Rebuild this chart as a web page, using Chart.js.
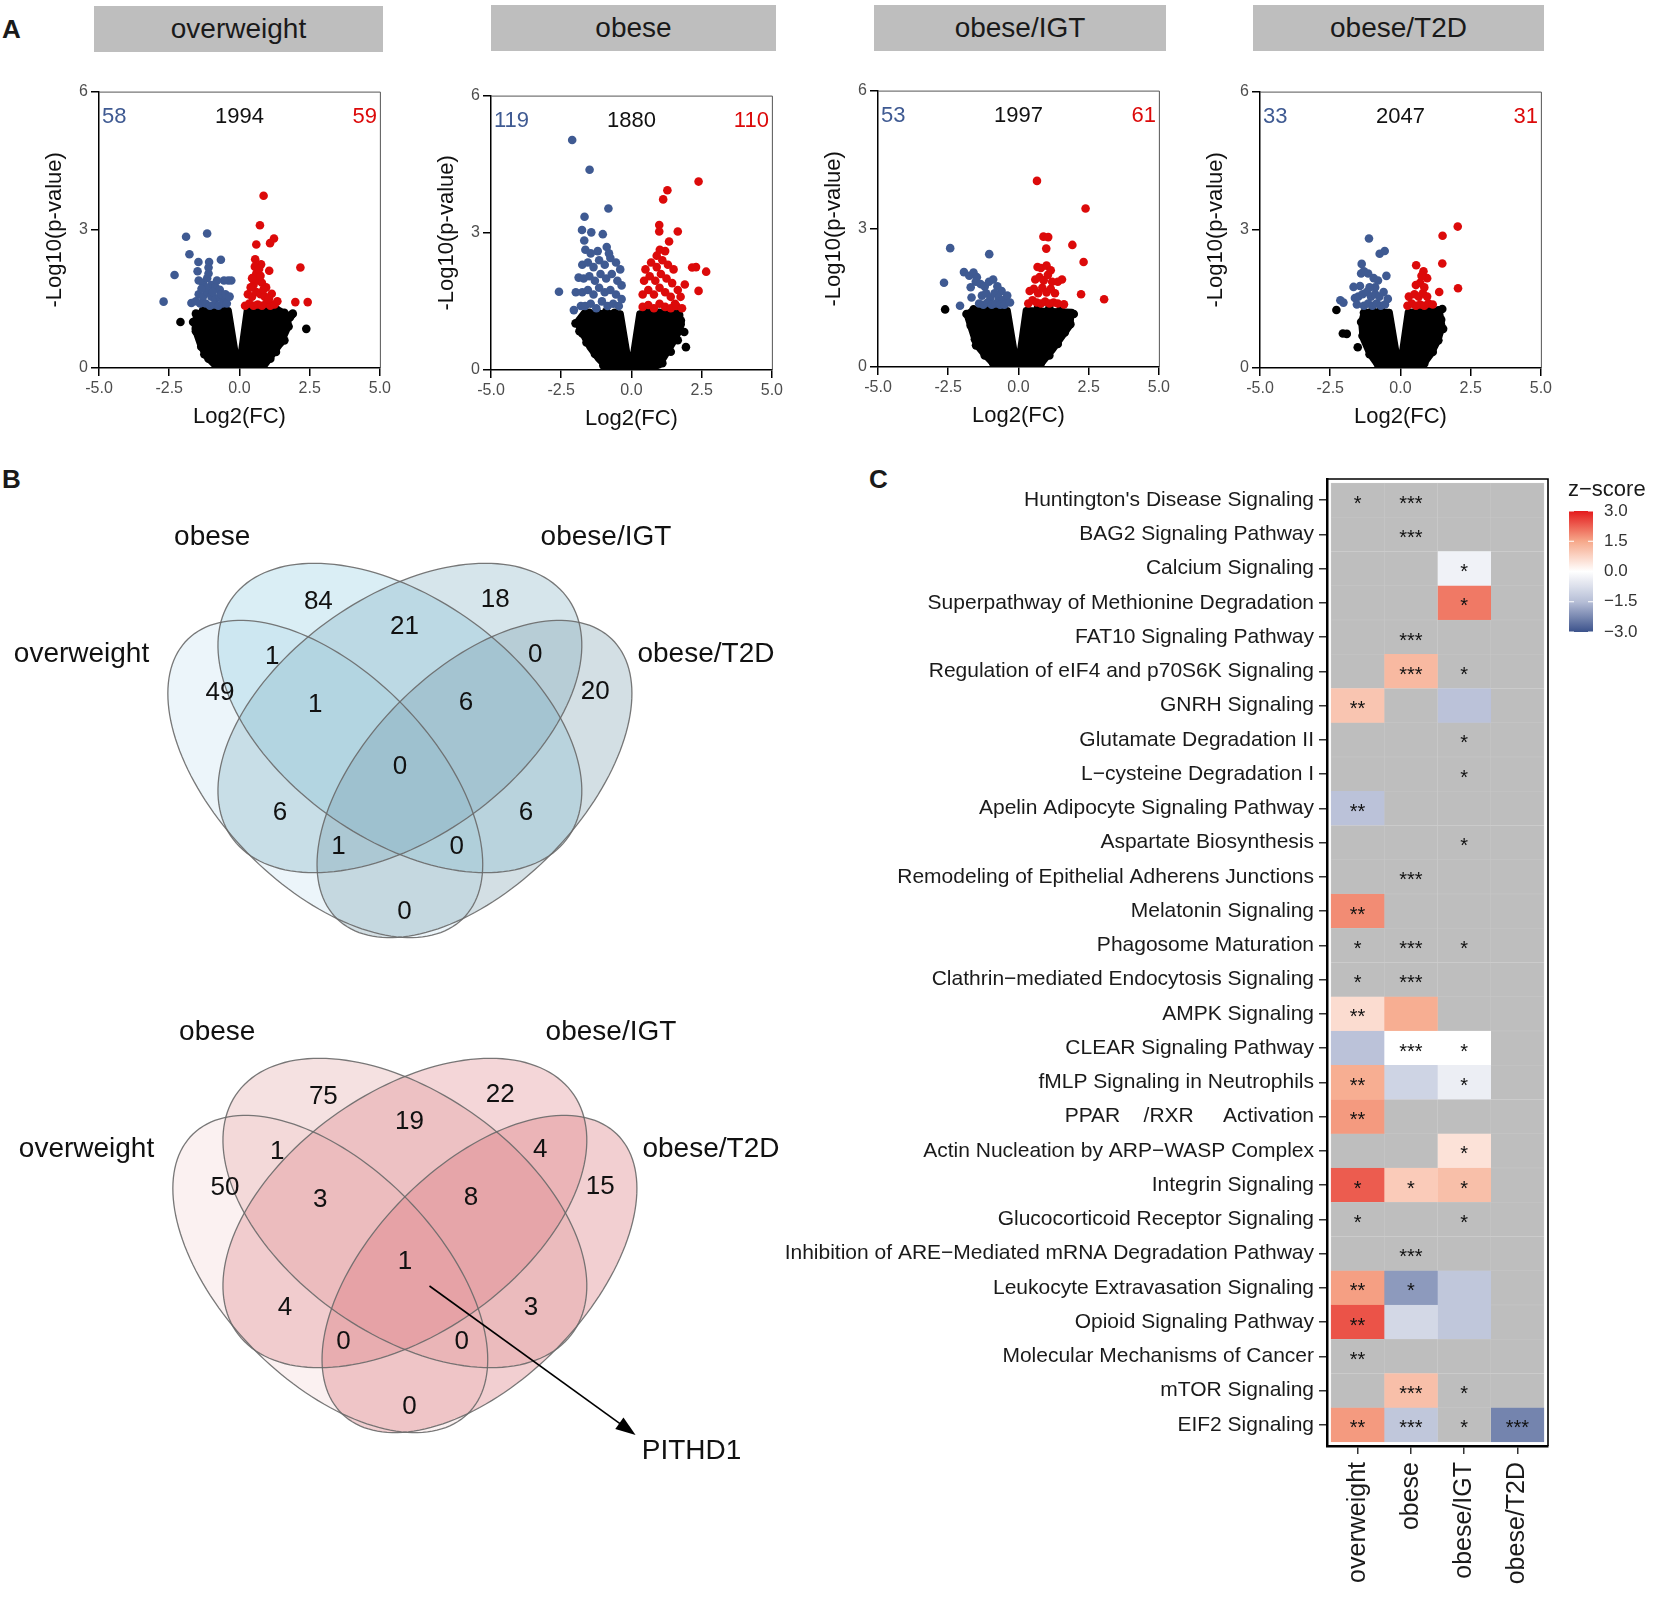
<!DOCTYPE html>
<html>
<head>
<meta charset="utf-8">
<script src="https://cdn.jsdelivr.net/npm/chart.js@4.4.1/dist/chart.umd.min.js"></script>
<style>
  body { margin: 0; background: #fff; width: 1654px; height: 1598px; position: relative; overflow: hidden;
         font-family: "Liberation Sans", Arial, Helvetica, sans-serif; color: #1a1a1a; }
  canvas { position: absolute; }
  .strip { position: absolute; background: #bebebe; font-size: 28px; text-align: center; height: 46px; line-height: 46px; }
  .tag { position: absolute; font-weight: bold; font-size: 26px; line-height: 30px; }
</style>
</head>
<body>
<div class="tag" style="left:2px;top:14px">A</div>
<div class="tag" style="left:2px;top:464px">B</div>
<div class="tag" style="left:869px;top:464px">C</div>

<div class="strip" style="left:94px;top:6px;width:289px">overweight</div>
<div class="strip" style="left:491px;top:5px;width:285px">obese</div>
<div class="strip" style="left:874px;top:5px;width:292px">obese/IGT</div>
<div class="strip" style="left:1253px;top:5px;width:291px">obese/T2D</div>

<canvas id="vol0" width="355" height="353" style="left:39px;top:79px"></canvas>
<canvas id="vol1" width="355" height="351" style="left:431px;top:83px"></canvas>
<canvas id="vol2" width="355" height="353" style="left:818px;top:78px"></canvas>
<canvas id="vol3" width="355" height="353" style="left:1200px;top:79px"></canvas>
<canvas id="venn0" width="800" height="490" style="left:0px;top:500px"></canvas>
<canvas id="venn1" width="800" height="490" style="left:5px;top:995px"></canvas>
<canvas id="heat" width="894" height="1158" style="left:760px;top:440px"></canvas>

<script>
// ---- A: volcano plots ----
const groups = ["overweight", "obese", "obese/IGT", "obese/T2D"];
const downCounts = [58, 119, 53, 33];
const restCounts = [1994, 1880, 1997, 2047];
const upCounts = [59, 110, 61, 31];

const owDown = [[-1.90,2.85],[-1.15,2.92],[-1.78,2.47],[-1.46,2.30],[-1.08,2.30],[-0.66,2.35],[-2.31,2.02],[-1.49,2.10],[-2.70,1.44],[-1.71,1.41],[-1.10,2.18],[-0.40,1.90],[-0.29,1.90],
  [-1.45,1.90],[-1.30,1.85],[-1.15,1.95],[-1.00,1.80],[-0.85,1.75],[-0.70,1.70],[-0.55,1.90],[-1.45,1.60],[-1.30,1.55],[-1.15,1.65],[-1.00,1.55],[-0.85,1.50],[-0.70,1.55],[-0.55,1.45],
  [-1.40,1.40],[-1.20,1.40],[-1.05,1.35],[-0.90,1.38],[-0.75,1.35],[-0.60,1.40],[-0.45,1.40],[-1.10,2.05],[-1.20,1.75],[-0.95,1.65],[-0.80,1.90],[-0.65,1.60],[-1.35,1.72],[-0.50,1.60],[-1.55,1.45],[-0.35,1.55]];
const owUp = [[0.86,3.74],[0.73,3.10],[1.23,2.81],[1.09,2.71],[0.60,2.68],[2.17,2.18],[1.99,1.43],[2.43,1.43],[0.56,2.36],[0.77,2.25],[1.06,2.11],[1.15,1.61],
  [0.20,1.35],[0.35,1.40],[0.50,1.35],[0.65,1.38],[0.80,1.35],[0.95,1.40],[1.10,1.35],[1.25,1.38],[0.30,1.60],[0.45,1.55],[0.60,1.65],[0.75,1.60],[0.90,1.55],[1.05,1.50],
  [0.50,1.80],[0.65,1.90],[0.80,1.85],[0.95,1.75],[0.60,2.05],[0.75,2.00],[0.55,2.20],[0.70,2.15],[0.85,1.70],[0.40,1.75],[0.45,1.95],[1.35,1.45]];
const owRest = [[-2.10,1.00],[2.38,0.85],[-1.36,0.46],[-1.55,0.80],[-1.65,1.00],[-1.55,1.18],[-1.30,1.25],[-1.00,1.25],[-0.70,1.28],
  [0.50,1.25],[0.90,1.25],[1.30,1.28],[1.60,1.20],[1.80,1.10],[1.85,1.15],[1.75,0.90],[1.60,0.60],[1.45,0.55],[1.30,0.35],[1.10,0.20],[0.80,0.08],
  [-1.10,0.20],[-0.80,0.05],[-1.25,0.30],[1.90,1.18]];
const owCore = [[-0.8,0],[-1.2,0.25],[-1.4,0.5],[-1.6,0.85],[-1.55,1.15],[-1.2,1.28],[-0.38,1.26],[-0.1,0.2],[0.02,0.2],[0.26,1.26],[1.3,1.3],[1.75,1.15],[1.75,0.9],[1.5,0.55],[1.2,0.3],[0.9,0.05],[0.5,0]];

const obDown = [[-2.11,5.03],[-1.49,4.38],[-0.82,3.53],[-1.67,3.35],[-1.76,3.06],[-1.43,3.01],[-1.02,2.97],[-1.68,2.83],[-1.64,2.63],[-0.88,2.69],[-2.58,1.71],[-2.05,1.31],[-1.88,2.02],[-1.98,1.70],[-1.80,1.40],
  [-1.75,2.30],[-1.55,2.35],[-1.35,2.25],[-1.15,2.40],[-0.95,2.30],[-0.75,2.45],[-0.55,2.35],[-0.40,2.20],[-1.70,2.00],[-1.50,2.05],[-1.30,1.95],[-1.10,2.10],[-0.90,2.00],[-0.70,2.10],
  [-0.50,1.95],[-0.35,1.85],[-1.75,1.70],[-1.55,1.75],[-1.35,1.65],[-1.15,1.80],[-0.95,1.70],[-0.75,1.75],[-0.55,1.65],[-1.65,1.40],[-1.45,1.45],[-1.25,1.35],[-1.05,1.50],[-0.85,1.40],
  [-0.65,1.45],[-0.45,1.40],[-0.35,1.55],[-1.20,2.60],[-0.80,2.55],[-1.45,2.55]];
const obUp = [[2.39,4.12],[1.28,3.93],[1.13,3.73],[1.65,3.03],[0.99,3.17],[0.99,3.03],[1.34,2.81],[1.01,2.63],[2.16,2.24],[2.66,2.15],[2.39,1.73],[1.90,1.87],[2.30,2.25],[1.75,1.60],[1.55,1.45],
  [0.50,2.20],[0.70,2.35],[0.90,2.25],[1.10,2.40],[1.30,2.30],[1.50,2.20],[0.45,1.95],[0.65,2.05],[0.85,1.95],[1.05,2.10],[1.25,2.00],[1.45,1.90],[1.65,1.75],[0.40,1.65],[0.60,1.75],
  [0.80,1.65],[1.00,1.80],[1.20,1.70],[1.40,1.60],[0.40,1.38],[0.60,1.42],[0.80,1.35],[1.00,1.45],[1.20,1.38],[1.40,1.35],[1.60,1.40],[1.80,1.35],[0.90,2.50],[1.20,2.60]];
const obRest = [[-1.99,1.02],[-1.85,0.85],[-1.70,1.15],[-1.50,1.25],[-1.20,1.25],[-0.90,1.28],[-0.60,1.25],
  [0.60,1.28],[1.00,1.25],[1.40,1.28],[1.70,1.20],[1.76,1.08],[1.88,0.83],[1.94,0.50],[1.65,0.65],[1.40,0.40],[1.10,0.15],[-1.00,0.10],[-1.30,0.35],[-1.60,0.60],[-1.75,0.80]];
const obCore = [[-0.8,0],[-1.2,0.25],[-1.5,0.5],[-1.8,0.85],[-1.95,1.05],[-1.7,1.25],[-0.38,1.24],[-0.1,0.2],[0.02,0.2],[0.28,1.24],[1.7,1.25],[1.8,1.0],[1.6,0.7],[1.3,0.4],[1.0,0.1],[0.5,0]];

const igtDown = [[-2.43,2.58],[-1.04,2.45],[-2.65,1.83],[-2.08,1.33],[-1.94,2.06],[-1.75,1.98],[-1.60,2.05],[-1.48,1.95],[-1.52,1.85],[-1.70,1.73],[-1.67,1.51],
  [-1.35,1.80],[-1.20,1.75],[-1.05,1.85],[-0.90,1.90],[-0.75,1.75],[-0.60,1.65],[-1.30,1.55],[-1.15,1.60],[-1.00,1.50],[-0.85,1.60],[-0.70,1.50],[-0.55,1.45],[-0.40,1.55],
  [-1.40,1.38],[-1.25,1.35],[-1.10,1.40],[-0.95,1.35],[-0.80,1.38],[-0.65,1.35],[-0.50,1.35],[-0.30,1.40]];
const igtUp = [[0.66,4.04],[2.39,3.44],[0.89,2.83],[1.06,2.82],[1.92,2.65],[0.99,2.57],[2.32,2.28],[2.23,1.58],[3.05,1.47],[1.62,1.36],[0.68,2.17],[1.40,1.85],[1.55,1.90],
  [0.35,1.38],[0.50,1.45],[0.65,1.40],[0.80,1.38],[0.95,1.42],[1.10,1.38],[1.25,1.40],[1.40,1.38],[0.40,1.65],[0.55,1.70],[0.70,1.60],[0.85,1.72],[1.00,1.62],[1.15,1.70],
  [1.30,1.60],[0.60,1.90],[0.75,1.95],[0.90,1.88],[1.05,2.00],[1.20,1.85],[0.80,2.15],[1.00,2.20],[1.15,2.10]];
const igtRest = [[-2.61,1.25],[-1.85,1.15],[-1.70,0.90],[-1.55,0.60],[-1.51,0.47],[-1.20,0.25],[-0.90,0.08],[-1.60,1.25],[-1.20,1.28],[-0.80,1.25],
  [0.70,1.30],[1.10,1.28],[1.50,1.25],[1.97,1.15],[1.85,0.93],[1.65,0.75],[1.40,0.50],[1.10,0.25],[0.80,0.08]];
const igtCore = [[-0.8,0],[-1.2,0.25],[-1.5,0.47],[-1.7,0.85],[-1.85,1.15],[-1.6,1.25],[-0.38,1.24],[-0.1,0.2],[0.02,0.2],[0.26,1.24],[1.9,1.2],[1.85,0.9],[1.5,0.6],[1.2,0.35],[0.8,0.05],[0.4,0]];

const t2dDown = [[-1.12,2.81],[-0.74,2.48],[-0.56,2.54],[-1.38,2.26],[-1.40,2.05],[-1.15,2.05],[-0.95,1.95],[-0.80,1.90],[-0.50,2.00],[-1.67,1.76],[-1.44,1.78],[-2.14,1.47],[-2.03,1.42],
  [-1.62,1.52],[-1.30,2.10],[-1.50,1.55],[-1.35,1.60],[-1.20,1.65],[-1.05,1.55],[-0.90,1.60],[-0.75,1.55],[-0.60,1.65],[-0.45,1.50],[-1.30,1.35],[-1.15,1.40],[-1.00,1.35],[-0.85,1.40],
  [-0.70,1.35],[-0.55,1.38],[-1.55,1.38],[-0.90,1.75],[-1.10,1.75]];
const t2dUp = [[2.04,3.07],[1.50,2.87],[1.49,2.27],[2.05,1.73],[1.38,1.65],[0.56,2.23],[0.82,2.10],
  [0.25,1.35],[0.40,1.40],[0.55,1.35],[0.70,1.38],[0.85,1.35],[1.00,1.40],[1.15,1.38],[0.30,1.55],[0.50,1.60],[0.65,1.55],[0.80,1.62],[0.95,1.55],[0.55,1.80],[0.70,1.85],
  [0.85,1.75],[0.95,1.95],[0.75,2.00]];
const t2dRest = [[-2.28,1.26],[-2.05,0.75],[-1.91,0.74],[-1.52,0.45],[-1.35,0.70],[-1.40,1.00],[-1.30,1.20],[-1.00,1.25],[-0.70,1.28],
  [0.60,1.25],[1.00,1.25],[1.35,1.25],[1.49,1.28],[1.52,0.85],[1.35,0.60],[1.15,0.35],[0.85,0.10],[-1.10,0.30],[-0.80,0.08],[1.45,1.05]];
const t2dCore = [[-0.75,0],[-1.1,0.3],[-1.35,0.65],[-1.4,1.0],[-1.3,1.22],[-0.38,1.22],[-0.1,0.2],[0.02,0.2],[0.26,1.22],[1.4,1.25],[1.5,0.9],[1.35,0.6],[1.1,0.3],[0.8,0.05],[0.4,0]];

// ---- B: Venn counts (region order: A, B, C, D, AB, BC, CD, ABC, BCD, ABCD, AC, BD, ACD, ABD, AD) ----
const vennSets = ["overweight", "obese", "obese/IGT", "obese/T2D"];
const vennDownCounts = [49, 84, 18, 20, 1, 21, 0, 1, 6, 0, 6, 6, 1, 0, 0];
const vennUpCounts = [50, 75, 22, 15, 1, 19, 4, 3, 8, 1, 4, 3, 0, 0, 0];

// ---- C: pathway heatmap ----
const pathways = [
  "Huntington's Disease Signaling", "BAG2 Signaling Pathway", "Calcium Signaling",
  "Superpathway of Methionine Degradation", "FAT10 Signaling Pathway",
  "Regulation of eIF4 and p70S6K Signaling", "GNRH Signaling", "Glutamate Degradation II",
  "L\u2212cysteine Degradation I", "Apelin Adipocyte Signaling Pathway", "Aspartate Biosynthesis",
  "Remodeling of Epithelial Adherens Junctions", "Melatonin Signaling", "Phagosome Maturation",
  "Clathrin\u2212mediated Endocytosis Signaling", "AMPK Signaling", "CLEAR Signaling Pathway",
  "fMLP Signaling in Neutrophils", "PPAR    /RXR     Activation", "Actin Nucleation by ARP\u2212WASP Complex",
  "Integrin Signaling", "Glucocorticoid Receptor Signaling",
  "Inhibition of ARE\u2212Mediated mRNA Degradation Pathway", "Leukocyte Extravasation Signaling",
  "Opioid Signaling Pathway", "Molecular Mechanisms of Cancer", "mTOR Signaling", "EIF2 Signaling"];
const _ = null;
const zOverweight = [_,_,_,_,_,_,1.0,_,_,-1.4,_,_,1.8,_,_,0.6,-1.4,1.4,1.65,_,2.3,_,_,1.6,2.4,_,_,1.65];
const zObese      = [_,_,_,_,_,1.2,_,_,_,_,_,_,_,_,_,1.4,0,-1.0,_,_,0.9,_,_,-2.0,-0.9,_,1.1,-1.3];
const zIGT        = [_,_,-0.3,2.0,_,_,-1.4,_,_,_,_,_,_,_,_,_,0,-0.4,_,0.5,1.1,_,_,-1.3,-1.3,_,_,_];
const zT2D        = [_,_,_,_,_,_,_,_,_,_,_,_,_,_,_,_,_,_,_,_,_,_,_,_,_,_,_,-2.3];
const starsOverweight = ["*","","","","","","**","","","**","","","**","*","*","**","","**","**","","*","*","","**","**","**","","**"];
const starsObese      = ["***","***","","","***","***","","","","","","***","","***","***","","***","","","","*","","***","*","","","***","***"];
const starsIGT        = ["","","*","*","","*","","*","*","","*","","","*","","","*","*","","*","*","*","","","","","*","*"];
const starsT2D        = ["","","","","","","","","","","","","","","","","","","","","","","","","","","","***"];
const legendTicks = [3, 1.5, 0, -1.5, -3];

// ---------------------------------------------------------------
const FONT = '"Liberation Sans", Arial, Helvetica, sans-serif';
const BLUE = "#3f5a92", RED = "#dc0a0a";
Chart.defaults.font.family = FONT;
Chart.defaults.color = "#1a1a1a";

const pts = a => a.map(p => ({ x: p[0], y: p[1] }));

// dense core of the point cloud, filled from the dataset's own points
const coreFill = {
  id: "coreFill",
  beforeDatasetsDraw(chart) {
    const { ctx, chartArea: a } = chart;
    chart.data.datasets.forEach((ds, i) => {
      if (!ds.core) return;
      const els = chart.getDatasetMeta(i).data;
      ctx.save();
      ctx.beginPath();
      ctx.rect(a.left, a.top, a.right - a.left, a.bottom - a.top);
      ctx.clip();
      ctx.beginPath();
      els.forEach((p, j) => j ? ctx.lineTo(p.x, p.y) : ctx.moveTo(p.x, p.y));
      ctx.closePath();
      ctx.fillStyle = "#000";
      ctx.strokeStyle = "#000";
      ctx.lineWidth = 6;
      ctx.lineJoin = "round";
      ctx.fill();
      ctx.stroke();
      ctx.restore();
    });
  }
};

const volcanoText = {
  id: "volcanoText",
  afterDatasetsDraw(chart, args, o) {
    const { ctx, chartArea: a, scales: { x, y } } = chart;
    const yy = y.getPixelForValue(5.45);
    ctx.save();
    ctx.font = "22px " + FONT;
    ctx.textBaseline = "middle";
    ctx.textAlign = "left"; ctx.fillStyle = BLUE;
    ctx.fillText(downCounts[o.k], a.left + 3, yy);
    ctx.textAlign = "center"; ctx.fillStyle = "#111";
    ctx.fillText(restCounts[o.k], x.getPixelForValue(0), yy);
    ctx.textAlign = "right"; ctx.fillStyle = RED;
    ctx.fillText(upCounts[o.k], a.right - 3, yy);
    ctx.strokeStyle = "#555"; ctx.lineWidth = 1;
    ctx.beginPath();
    ctx.moveTo(a.left, a.top + 0.5);
    ctx.lineTo(a.right + 0.5, a.top + 0.5);
    ctx.lineTo(a.right + 0.5, a.bottom);
    ctx.stroke();
    ctx.restore();
  }
};

function axis(tickVals, title, fmt, min, max, fit) {
  return {
    type: "linear", min, max,
    afterBuildTicks: s => { s.ticks = tickVals.map(v => ({ value: v })); },
    afterFit: fit,
    ticks: { callback: fmt, font: { size: 16 }, color: "#4d4d4d", padding: 3, maxRotation: 0, autoSkip: false },
    grid: { drawOnChartArea: false, tickLength: 8, color: "#000", lineWidth: 1.5 },
    border: { color: "#000", width: 1.5 },
    title: { display: true, text: title, font: { size: 22 }, color: "#111", padding: { top: 3, bottom: 2 } }
  };
}

function volcano(k, down, up, rest, core) {
  new Chart(document.getElementById("vol" + k), {
    type: "scatter",
    data: {
      datasets: [
        { data: pts(up), backgroundColor: RED, order: 1 },
        { data: pts(down), backgroundColor: BLUE, order: 2 },
        { data: pts(rest), backgroundColor: "#000", order: 3 },
        { data: pts(core), core: true, pointRadius: 0, order: 4 }
      ]
    },
    options: {
      responsive: false, animation: false, events: [],
      layout: { padding: { top: 10, right: 10, left: 0, bottom: 0 } },
      elements: { point: { radius: 4.3, borderWidth: 0, hoverRadius: 4.3 } },
      plugins: { legend: { display: false }, tooltip: { enabled: false }, volcanoText: { k } },
      scales: {
        x: axis([-5, -2.5, 0, 2.5, 5], "Log2(FC)", v => v.toFixed(1), -5, 5, s => { s.height = 64; }),
        y: axis([0, 3, 6], "-Log10(p-value)", v => String(v), 0, 6, s => { s.width = 60; })
      }
    },
    plugins: [coreFill, volcanoText]
  });
}

volcano(0, owDown, owUp, owRest, owCore);
volcano(1, obDown, obUp, obRest, obCore);
volcano(2, igtDown, igtUp, igtRest, igtCore);
volcano(3, t2dDown, t2dUp, t2dRest, t2dCore);

// ---- Venn layout (x unit = 1/1.538 px, y unit = px) ----
const regionPos = [[143,693],[207,602],[322,600],[387,692],[177,657],[263,627],[348,655],[205,705],[303,703],[260,767],[182,813],[342,813],[220,847],[297,847],[263,912]];
const setLabelPos = [[53,654],[138,537],[394,537],[459,654]];
const vennShapes = [
  { cx: 211.5, cy: 779, a: 171, b: 80, rot: 65 },
  { cx: 260, cy: 718, a: 170, b: 95, rot: 60 },
  { cx: 260, cy: 718, a: 170, b: 95, rot: -60 },
  { cx: 308.5, cy: 779, a: 171, b: 80, rot: -65 }
];

const vennDraw = {
  id: "vennDraw",
  beforeDatasetsDraw(chart, args, o) {
    const { ctx, scales: { x, y } } = chart;
    const path = e => {
      const r = e.rot * Math.PI / 180;
      ctx.beginPath();
      for (let i = 0; i <= 160; i++) {
        const t = i / 160 * 2 * Math.PI;
        const lx = e.a * Math.cos(t), ly = e.b * Math.sin(t);
        const px = x.getPixelForValue(e.cx + lx * Math.cos(r) - ly * Math.sin(r));
        const py = y.getPixelForValue(e.cy + lx * Math.sin(r) + ly * Math.cos(r));
        i ? ctx.lineTo(px, py) : ctx.moveTo(px, py);
      }
      ctx.closePath();
    };
    ctx.save();
    vennShapes.forEach((e, i) => { path(e); ctx.fillStyle = o.fills[i]; ctx.fill(); });
    ctx.strokeStyle = "rgba(105,105,105,0.9)";
    ctx.lineWidth = 1.3;
    vennShapes.forEach(e => { path(e); ctx.stroke(); });
    ctx.restore();
  },
  afterDatasetsDraw(chart, args, o) {
    const { ctx, scales: { x, y } } = chart;
    ctx.save();
    ctx.textAlign = "center";
    ctx.textBaseline = "middle";
    ctx.fillStyle = "#111";
    ctx.font = "26px " + FONT;
    chart.getDatasetMeta(0).data.forEach((el, i) => ctx.fillText(o.counts[i], el.x, el.y));
    ctx.font = "28px " + FONT;
    chart.getDatasetMeta(1).data.forEach((el, i) => ctx.fillText(vennSets[i], el.x, el.y));
    if (o.arrow) {
      const x0 = x.getPixelForValue(276), y0 = y.getPixelForValue(791);
      const x1 = x.getPixelForValue(410), y1 = y.getPixelForValue(940);
      const ang = Math.atan2(y1 - y0, x1 - x0);
      ctx.strokeStyle = "#000"; ctx.lineWidth = 1.6;
      ctx.beginPath(); ctx.moveTo(x0, y0);
      ctx.lineTo(x1 - 18 * Math.cos(ang), y1 - 18 * Math.sin(ang)); ctx.stroke();
      ctx.fillStyle = "#000";
      ctx.beginPath();
      ctx.moveTo(x1, y1);
      ctx.lineTo(x1 - 20 * Math.cos(ang) + 7 * Math.sin(ang), y1 - 20 * Math.sin(ang) - 7 * Math.cos(ang));
      ctx.lineTo(x1 - 20 * Math.cos(ang) - 7 * Math.sin(ang), y1 - 20 * Math.sin(ang) + 7 * Math.cos(ang));
      ctx.closePath(); ctx.fill();
      ctx.fillStyle = "#111";
      ctx.textAlign = "left";
      ctx.font = "28px " + FONT;
      ctx.fillText("PITHD1", x.getPixelForValue(414), y.getPixelForValue(956));
    }
    ctx.restore();
  }
};

function venn(id, counts, fills, arrow) {
  new Chart(document.getElementById(id), {
    type: "scatter",
    data: {
      datasets: [
        { data: pts(regionPos), pointRadius: 0 },
        { data: pts(setLabelPos), pointRadius: 0 }
      ]
    },
    options: {
      responsive: false, animation: false, events: [],
      layout: { padding: 0 },
      plugins: { legend: { display: false }, tooltip: { enabled: false }, vennDraw: { counts, fills, arrow } },
      scales: {
        x: { display: false, min: 0, max: 800 / 1.538 },
        y: { display: false, min: 500, max: 990, reverse: true }
      }
    },
    plugins: [vennDraw]
  });
}

venn("venn0", vennDownCounts,
  ["rgba(200,225,240,0.35)", "rgba(150,205,225,0.35)", "rgba(120,170,190,0.3)", "rgba(110,150,165,0.3)"], false);
venn("venn1", vennUpCounts,
  ["rgba(240,200,200,0.25)", "rgba(230,180,180,0.4)", "rgba(220,120,125,0.3)", "rgba(215,110,115,0.33)"], true);

// ---- heatmap ----
function zColor(z) {
  if (z === null) return "#bebebe";
  const pos = [[255,255,255],[246,168,138],[228,26,28]];
  const neg = [[255,255,255],[182,190,214],[59,82,139]];
  const s = z >= 0 ? pos : neg;
  const t = Math.min(Math.abs(z), 3);
  const lo = t <= 1.5 ? s[0] : s[1], hi = t <= 1.5 ? s[1] : s[2];
  const f = (t <= 1.5 ? t : t - 1.5) / 1.5;
  const c = lo.map((v, i) => Math.round(v + (hi[i] - v) * f));
  return "rgb(" + c.join(",") + ")";
}

const zCols = [zOverweight, zObese, zIGT, zT2D];
const starCols = [starsOverweight, starsObese, starsIGT, starsT2D];

const heatExtras = {
  id: "heatExtras",
  afterDatasetsDraw(chart) {
    const ctx = chart.ctx;
    ctx.save();
    ctx.font = "20px " + FONT;
    ctx.textAlign = "center";
    ctx.textBaseline = "middle";
    ctx.fillStyle = "#111";
    starCols.forEach((col, c) => {
      chart.getDatasetMeta(c).data.forEach((el, i) => {
        if (col[i]) ctx.fillText(col[i], (el.x + el.base) / 2, el.y + 4);
      });
    });
    ctx.restore();
  },
  afterDraw(chart) {
    const { ctx, chartArea: a } = chart;
    ctx.save();
    ctx.strokeStyle = "#000";
    ctx.lineWidth = 1.6;
    ctx.beginPath();
    ctx.moveTo(a.left, a.top);
    ctx.lineTo(a.right, a.top);
    ctx.lineTo(a.right, a.bottom);
    ctx.stroke();
    // colour bar legend
    const lx = a.right + 21, ly = a.top + 32, lw = 24, lh = 121;
    const g = ctx.createLinearGradient(0, ly, 0, ly + lh);
    for (let i = 0; i <= 24; i++) g.addColorStop(i / 24, zColor(3 - i * 0.25));
    ctx.fillStyle = g;
    ctx.fillRect(lx, ly, lw, lh);
    ctx.fillStyle = "#1a1a1a";
    ctx.textAlign = "left";
    ctx.textBaseline = "middle";
    ctx.font = "22px " + FONT;
    ctx.fillText("z\u2212score", lx - 1, a.top + 11);
    ctx.font = "17px " + FONT;
    ctx.fillStyle = "#333";
    ctx.strokeStyle = "#fff";
    ctx.lineWidth = 1;
    legendTicks.forEach(v => {
      const yy = ly + (3 - v) / 6 * lh;
      ctx.fillText(v.toFixed(1).replace("-", "\u2212"), lx + lw + 11, yy);
      ctx.beginPath();
      ctx.moveTo(lx, yy); ctx.lineTo(lx + 5, yy);
      ctx.moveTo(lx + lw - 5, yy); ctx.lineTo(lx + lw, yy);
      ctx.stroke();
    });
    ctx.restore();
  }
};

new Chart(document.getElementById("heat"), {
  type: "bar",
  data: {
    datasets: zCols.map((col, c) => ({
      data: pathways.map((p, i) => ({ y: i, x: [c, c + 1] })),
      backgroundColor: col.map(zColor),
      borderColor: col.map(z => z === null ? "#c7c7c7" : zColor(z)),
      borderWidth: 0.6,
      borderSkipped: false,
      grouped: false,
      barPercentage: 1,
      categoryPercentage: 1
    }))
  },
  options: {
    indexAxis: "y",
    responsive: false, animation: false, events: [],
    layout: { padding: { top: 39, right: 106, left: 0, bottom: 0 } },
    plugins: { legend: { display: false }, tooltip: { enabled: false } },
    scales: {
      y: {
        type: "linear", reverse: true, min: -0.617, max: 27.617, offset: false,
        afterBuildTicks: s => { s.ticks = pathways.map((p, i) => ({ value: i })); },
        afterFit: s => { s.width = 567; },
        ticks: { autoSkip: false, callback: v => pathways[v], font: { size: 21 }, color: "#1a1a1a", padding: 5 },
        grid: { drawOnChartArea: false, offset: false, tickLength: 8, color: "#333", lineWidth: 1.5 },
        border: { color: "#000", width: 2.5 }
      },
      x: {
        type: "linear", min: -0.075, max: 4.075, offset: false,
        afterBuildTicks: s => { s.ticks = groups.map((g, i) => ({ value: i + 0.5 })); },
        afterFit: s => { s.height = 152; },
        ticks: { autoSkip: false, callback: (v, i) => groups[i], minRotation: 90, maxRotation: 90,
                 font: { size: 25 }, color: "#1a1a1a", padding: 8 },
        grid: { drawOnChartArea: false, offset: false, tickLength: 8, color: "#333", lineWidth: 1.5 },
        border: { color: "#000", width: 2.5 }
      }
    }
  },
  plugins: [heatExtras]
});
</script>
</body>
</html>
